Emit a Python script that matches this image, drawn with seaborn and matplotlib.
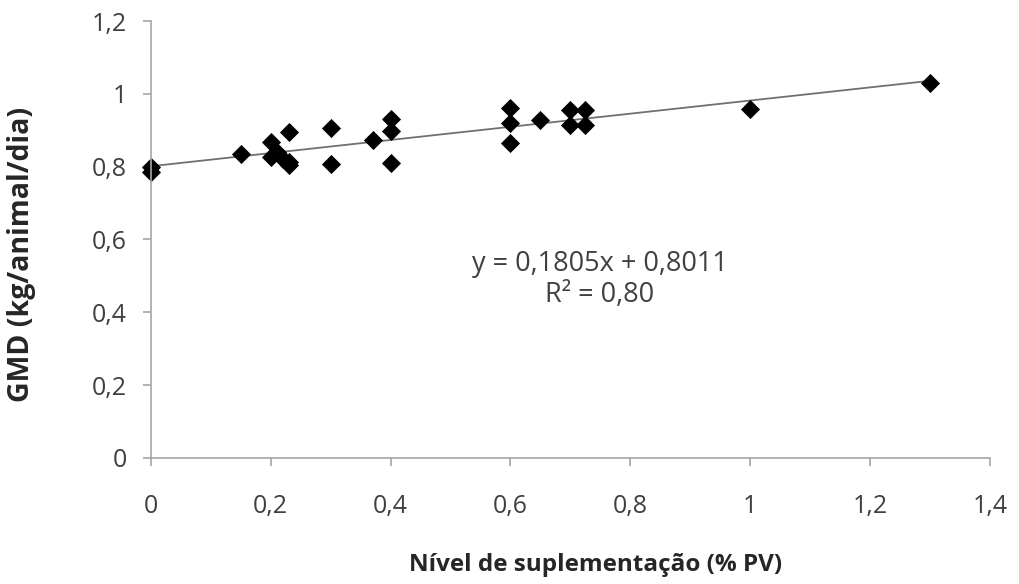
import numpy as np
import pandas as pd
import seaborn as sns
import matplotlib.pyplot as plt

# supplementation level (% PV) and average daily gain (kg/animal/dia)
nivel = [0, 0, 0.15, 0.20, 0.20, 0.21, 0.22, 0.23, 0.23, 0.23,
         0.30, 0.30, 0.37, 0.40, 0.40, 0.40,
         0.60, 0.60, 0.60, 0.65, 0.70, 0.70, 0.725, 0.725, 1.00, 1.30]
gmd = [0.80, 0.785, 0.835, 0.868, 0.826, 0.84, 0.82, 0.896, 0.814, 0.805,
       0.905, 0.807, 0.873, 0.932, 0.899, 0.811,
       0.960, 0.921, 0.864, 0.927, 0.955, 0.914, 0.955, 0.914, 0.959, 1.030]

# trend line from the chart
slope = 0.1805
intercept = 0.8011
eq_text = "y = 0,1805x + 0,8011\nR² = 0,80"

xticks = [0, 0.2, 0.4, 0.6, 0.8, 1, 1.2, 1.4]
yticks = [0, 0.2, 0.4, 0.6, 0.8, 1, 1.2]

def br(v):
    s = ("%g" % v)
    return s.replace(".", ",")

sns.set_theme(style="white")
plt.rcParams['font.family'] = ['Open Sans', 'DejaVu Sans']

fig = plt.figure(figsize=(10.19, 5.84), dpi=100)
ax = fig.add_axes([0.148, 0.216, 0.8235, 0.748])

df = pd.DataFrame({"nivel": nivel, "gmd": gmd})
xl = np.array([min(nivel), max(nivel)])
line = pd.DataFrame({"x": xl, "y": slope * xl + intercept})
sns.lineplot(data=line, x="x", y="y", ax=ax, color="#707070", linewidth=1.3, zorder=1)
sns.scatterplot(data=df, x="nivel", y="gmd", ax=ax, marker="D", s=95,
                color="black", edgecolor="black", linewidth=0, zorder=2, clip_on=False)

ax.set_xlim(0, 1.4)
ax.set_ylim(0, 1.2)
ax.set_xticks(xticks)
ax.set_yticks(yticks)
ax.set_xticklabels([br(v) for v in xticks])
ax.set_yticklabels([br(v) for v in yticks])

for sp in ["top", "right"]:
    ax.spines[sp].set_visible(False)
for sp in ["left", "bottom"]:
    ax.spines[sp].set_color("#a6a6a6")
    ax.spines[sp].set_linewidth(1.2)
ax.tick_params(axis="both", direction="out", length=6, width=1.2, color="#a6a6a6",
               labelsize=18, labelcolor="#404040", bottom=True, left=True)
ax.tick_params(axis="x", pad=20)
ax.tick_params(axis="y", pad=11)

ax.set_xlabel("Nível de suplementação (% PV)", fontsize=17.5, fontweight="bold",
              color="#262626")
ax.set_ylabel("GMD (kg/animal/dia)", fontsize=20.5, fontweight="bold",
              color="#262626")
ax.xaxis.label.set_va("center")
ax.yaxis.label.set_va("center")
ax.xaxis.set_label_coords(0.53, -0.245)
ax.yaxis.set_label_coords(-0.154, 0.466)

ax.text(0.749, 0.49, eq_text, ha="center", va="center", fontsize=19.5,
        color="#404040", linespacing=1.1)

fig.savefig("out.png", dpi=100, facecolor="white")
